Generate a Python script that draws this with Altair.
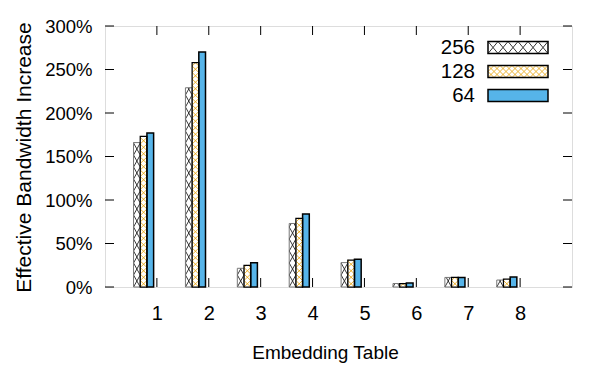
import altair as alt
import pandas as pd

# ---- data ----
categories = [1, 2, 3, 4, 5, 6, 7, 8]
series = ["256", "128", "64"]
v256 = [166, 229, 21.5, 73, 28, 4, 11, 8]
v128 = [173, 258, 25, 79, 31, 4, 11, 9]
v64 = [177, 270, 28, 84, 32, 4.5, 11, 11.5]
y_ticks = [0, 50, 100, 150, 200, 250, 300]

# ---- layout / style ----
W, H = 467, 261
XMAX, YMAX = 9, 300
BW = 0.129          # bar width in category units
START = -0.45       # left edge of first bar relative to category tick
BLUE = "#56B4E9"
ORANGE = "#E69F00"
FONT = "Liberation Sans"

def px2x(px):
    return px / W * XMAX

def px2y(py):
    return (H - py) / H * YMAX

rows = []
for i, (s, vals) in enumerate(zip(series, [v256, v128, v64])):
    for c, v in zip(categories, vals):
        rows.append(dict(series=s, idx=i, cat=c, value=v))
bars = pd.DataFrame(rows)


def hatch_segments(vals, idx, period):
    segs = []
    for c, v in zip(categories, vals):
        x0 = c + START + idx * BW
        x1 = x0 + BW
        k = 0
        while k * period < v - 1e-9:
            y0 = k * period
            ytop = (k + 1) * period
            if ytop <= v:
                segs.append((x0, y0, x1, ytop))
                segs.append((x1, y0, x0, ytop))
            else:
                t = (v - y0) / period
                segs.append((x0, y0, x0 + t * BW, v))
                segs.append((x1, y0, x1 - t * BW, v))
            k += 1
    return pd.DataFrame(segs, columns=["xa", "ya", "xb", "yb"])


hatch256 = hatch_segments(v256, 0, 12 / H * YMAX)
hatch128 = hatch_segments(v128, 1, 6.5 / H * YMAX)

xs = alt.Scale(domain=[0, XMAX], nice=False, zero=False)
ys = alt.Scale(domain=[0, YMAX], nice=False)
xaxis = alt.Axis(values=categories, title="Embedding Table", labelFontSize=20,
                 labelPadding=16, titleFontSize=19, titleX=220, titleY=71,
                 titleBaseline="alphabetic",
                 labelFont=FONT, titleFont=FONT, labelColor="black",
                 titleColor="black", titleFontWeight="normal",
                 grid=False, ticks=False, domain=False)
yaxis = alt.Axis(values=y_ticks, title="Effective Bandwidth Increase",
                 labelExpr="datum.value + '%'", labelFontSize=18.5,
                 labelPadding=13, titleFontSize=21, titleX=-81, titleY=131,
                 titleAngle=270, titleAlign="center", titleBaseline="middle",
                 labelFont=FONT, titleFont=FONT, labelColor="black",
                 titleColor="black", titleFontWeight="normal",
                 grid=False, ticks=False, domain=False)


def X(f):
    return alt.X(f, scale=xs, axis=xaxis)


def Y(f):
    return alt.Y(f, scale=ys, axis=yaxis)


base = alt.Chart(bars).transform_calculate(
    x0=f"datum.cat + ({START}) + datum.idx * {BW}",
    x1=f"datum.cat + ({START}) + datum.idx * {BW} + {BW}",
)

bar_fill = base.mark_rect(strokeWidth=0).encode(
    x=X("x0:Q"), x2="x1:Q", y=Y("value:Q"), y2=alt.datum(0),
    fill=alt.Fill("series:N", scale=alt.Scale(domain=series, range=["white", "white", BLUE]), legend=None),
)

h256 = alt.Chart(hatch256).mark_rule(color="#222", strokeWidth=0.9).encode(
    x=X("xa:Q"), x2="xb:Q", y=Y("ya:Q"), y2="yb:Q")
h128 = alt.Chart(hatch128).mark_rule(color=ORANGE, strokeWidth=0.8).encode(
    x=X("xa:Q"), x2="xb:Q", y=Y("ya:Q"), y2="yb:Q")

bar_edge = base.mark_rect(fillOpacity=0, fill="white").encode(
    x=X("x0:Q"), x2="x1:Q", y=Y("value:Q"), y2=alt.datum(0),
    stroke=alt.Stroke("series:N", scale=alt.Scale(domain=series, range=["#777", "black", "black"]), legend=None),
    strokeWidth=alt.StrokeWidth("series:N", scale=alt.Scale(domain=series, range=[1, 1.5, 1.5]), legend=None),
)

# ticks (inward, mirrored)
ytick_df = pd.DataFrame({"v": y_ticks})
xtick_df = pd.DataFrame({"c": categories})
tick_l = alt.Chart(ytick_df).mark_rule(color="black", strokeWidth=1).encode(
    y=Y("v:Q"), x=alt.value(0), x2=alt.value(9))
tick_r = alt.Chart(ytick_df).mark_rule(color="black", strokeWidth=1).encode(
    y=Y("v:Q"), x=alt.value(W - 9), x2=alt.value(W))
tick_b = alt.Chart(xtick_df).mark_rule(color="black", strokeWidth=1).encode(
    x=X("c:Q"), y=alt.value(H), y2=alt.value(H - 9))
tick_t = alt.Chart(xtick_df).mark_rule(color="black", strokeWidth=1).encode(
    x=X("c:Q"), y=alt.value(0), y2=alt.value(9))

# ---- manual legend (pixel layout converted to data coords) ----
LX0, LX1, LH = 383, 443, 12
row_centers = [21.5, 45.5, 69.5]
leg_rows = []
for s, yc in zip(series, row_centers):
    leg_rows.append(dict(series=s, xa=px2x(LX0), xb=px2x(LX1),
                         ya=px2y(yc + LH / 2), yb=px2y(yc - LH / 2),
                         tx=px2x(LX0 - 13), ty=px2y(yc)))
leg = pd.DataFrame(leg_rows)

leg_fill = alt.Chart(leg).mark_rect(strokeWidth=0).encode(
    x=X("xa:Q"), x2="xb:Q", y=Y("ya:Q"), y2="yb:Q",
    fill=alt.Fill("series:N", scale=alt.Scale(domain=series, range=["white", "white", BLUE]), legend=None))


def legend_hatch(yc, cw, ch):
    segs = []
    ytop = yc - LH / 2
    nrow = int(round(LH / ch))
    ncol = int(round((LX1 - LX0) / cw))
    cw2 = (LX1 - LX0) / ncol
    ch2 = LH / nrow
    for r in range(nrow):
        for k in range(ncol):
            xa = LX0 + k * cw2
            xb = xa + cw2
            ya = ytop + r * ch2
            yb = ya + ch2
            segs.append((px2x(xa), px2y(ya), px2x(xb), px2y(yb)))
            segs.append((px2x(xa), px2y(yb), px2x(xb), px2y(ya)))
    return pd.DataFrame(segs, columns=["xa", "ya", "xb", "yb"])


lh256 = alt.Chart(legend_hatch(row_centers[0], 10, 12)).mark_rule(color="#222", strokeWidth=0.9).encode(
    x=X("xa:Q"), x2="xb:Q", y=Y("ya:Q"), y2="yb:Q")
lh128 = alt.Chart(legend_hatch(row_centers[1], 6, 6)).mark_rule(color=ORANGE, strokeWidth=0.8).encode(
    x=X("xa:Q"), x2="xb:Q", y=Y("ya:Q"), y2="yb:Q")

leg_edge = alt.Chart(leg).mark_rect(fillOpacity=0, fill="white", stroke="black", strokeWidth=1.5).encode(
    x=X("xa:Q"), x2="xb:Q", y=Y("ya:Q"), y2="yb:Q")

leg_text = alt.Chart(leg).mark_text(align="right", baseline="middle", fontSize=20.5,
                                    font=FONT, color="black").encode(
    x=X("tx:Q"), y=Y("ty:Q"), text="series:N")

chart = alt.layer(
    bar_fill, h256, h128, bar_edge,
    tick_l, tick_r, tick_b, tick_t,
    leg_fill, lh256, lh128, leg_edge, leg_text,
).properties(
    width=W, height=H,
    autosize=alt.AutoSizeParams(type="none"),
    padding={"left": 97, "top": 18, "right": 28, "bottom": 79},
).configure_view(
    stroke="black", strokeWidth=1
).configure(background="white")

chart.save("out.html", embed_options={"renderer": "svg", "actions": False})
